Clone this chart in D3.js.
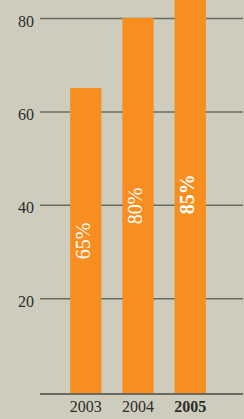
<!DOCTYPE html>
<html>
<head>
<meta charset="utf-8">
<script src="https://cdn.jsdelivr.net/npm/d3@7"></script>
<style>
    html, body { margin: 0; padding: 0; background: #cecdbd; }
    svg { display: block; font-family: "Liberation Serif", "DejaVu Serif", serif; }
</style>
</head>
<body>
<svg id="chart"></svg>
<script>
var years = ['2003', '2004', '2005'],
    values = [65, 80, 85],
    yTicks = [20, 40, 60, 80],
    highlightYear = '2005';

var width = 244,
    height = 419,
    baseline = 394;

var svg = d3.select('#chart').attr('width', width).attr('height', height);

var x = d3.scaleBand()
    .domain(years)
    .range([44, 232])
    .paddingInner(0.4)
    .paddingOuter(0.5);

var y = d3.scaleLinear()
    .domain([0, 80])
    .range([391.5, 18]);

// gridlines + labels on the left
var grid = svg.append('g')
    .attr('transform', 'translate(40,0)')
    .call(d3.axisLeft(y).tickValues(yTicks).tickSize(-203).tickPadding(6));

grid.select('.domain').remove();
grid.selectAll('.tick line')
    .attr('stroke', '#6b6a60')
    .attr('stroke-width', 1.5);
grid.selectAll('.tick text')
    .attr('fill', '#2b2b2b')
    .attr('font-size', 16)
    .attr('font-family', '"Liberation Serif", serif')
    .attr('dy', '0.5em');

// bars
svg.selectAll('rect.bar')
    .data(values)
    .enter()
    .append('rect')
    .attr('class', 'bar')
    .attr('x', function(d, i) { return x(years[i]); })
    .attr('width', x.bandwidth())
    .attr('y', function(d) { return y(d); })
    .attr('height', function(d) { return baseline - y(d); })
    .attr('fill', '#f78e1f');

// baseline
svg.append('line')
    .attr('x1', 40).attr('x2', 243)
    .attr('y1', baseline).attr('y2', baseline)
    .attr('stroke', '#6b6a60')
    .attr('stroke-width', 2);

// value labels inside the bars, rotated, centred on the bar
svg.selectAll('text.val')
    .data(values)
    .enter()
    .append('text')
    .attr('class', 'val')
    .attr('transform', function(d, i) {
        var cx = x(years[i]) + x.bandwidth() / 2,
            cy = (y(d) + baseline) / 2;
        return 'translate(' + cx + ',' + cy + ') rotate(-90)';
    })
    .attr('text-anchor', 'middle')
    .attr('dy', '0.2em')
    .attr('fill', '#ffffff')
    .attr('font-size', 20)
    .attr('font-weight', function(d, i) { return years[i] === highlightYear ? 'bold' : 'normal'; })
    .text(function(d) { return d + '%'; });

// year labels
var xAxis = svg.append('g')
    .attr('transform', 'translate(0,' + baseline + ')')
    .call(d3.axisBottom(x).tickSize(0).tickPadding(8));

xAxis.select('.domain').remove();
xAxis.selectAll('.tick text')
    .attr('fill', '#2b2b2b')
    .attr('font-size', 16)
    .attr('font-family', '"Liberation Serif", serif')
    .attr('dy', '0.62em')
    .attr('font-weight', function(d) { return d === highlightYear ? 'bold' : 'normal'; });
</script>
</body>
</html>
